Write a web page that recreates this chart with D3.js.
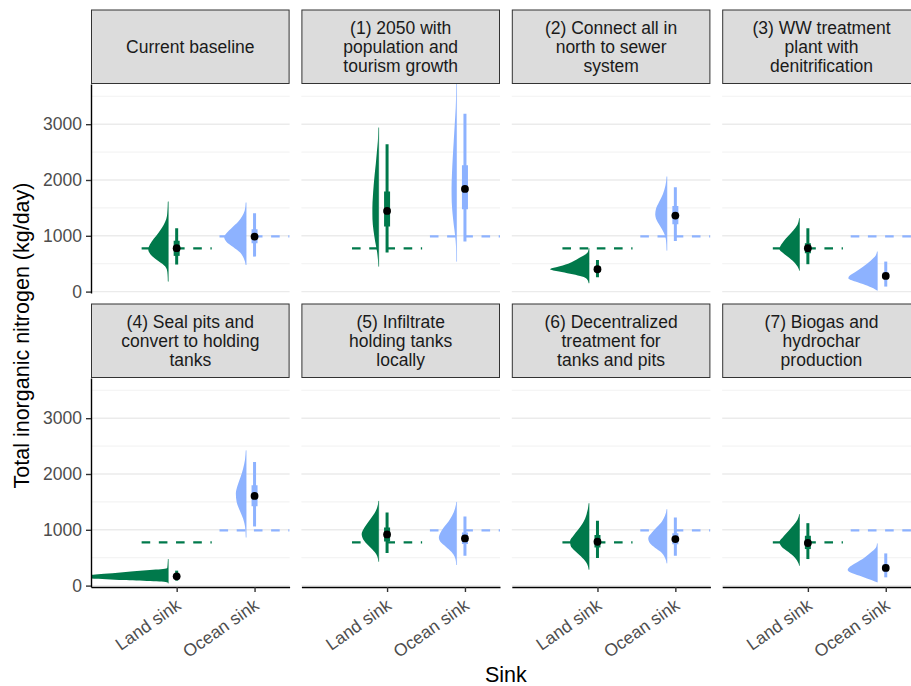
<!DOCTYPE html>
<html>
<head>
<meta charset="utf-8">
<script src="https://cdn.jsdelivr.net/npm/d3@7"></script>
<style>
  body { margin: 0; background: #fff; }
  text { font-family: "Liberation Sans", Arial, sans-serif; }
</style>
</head>
<body>
<svg id="chart" width="911" height="686"></svg>
<script>
// strip labels, one entry per scenario (already wrapped)
const scenarioLabels = [
    ['Current baseline'],
    ['(1) 2050 with', 'population and', 'tourism growth'],
    ['(2) Connect all in', 'north to sewer', 'system'],
    ['(3) WW treatment', 'plant with', 'denitrification'],
    ['(4) Seal pits and', 'convert to holding', 'tanks'],
    ['(5) Infiltrate', 'holding tanks', 'locally'],
    ['(6) Decentralized', 'treatment for', 'tanks and pits'],
    ['(7) Biogas and', 'hydrochar', 'production']
]
const sinks = ['Land sink', 'Ocean sink']
const referenceLevel = [775, 990]   // baseline medians, drawn dashed in every panel
const yTicks = [0, 1000, 2000, 3000]
const yMinorTicks = [500, 1500, 2500, 3500]

// medians and quantile intervals (kg/day)
const landMedian = [778, 1446, 401, 778, 166, 917, 786, 763]
const oceanMedian = [986, 1840, 1362, 281, 1607, 845, 834, 316]
const land66 = [[640, 910], [1165, 1792], [350, 455], [688, 867], [130, 200], [792, 1042], [684, 905], [655, 893]]
const land95 = [[485, 1136], [699, 2641], [258, 568], [491, 1136], [89, 268], [583, 1310], [494, 1161], [476, 1119]]
const ocean66 = [[867, 1118], [1477, 2265], [1208, 1536], [225, 345], [1423, 1798], [745, 952], [740, 940], [255, 380]]
const ocean95 = [[627, 1405], [896, 3185], [909, 1871], [90, 538], [1060, 2214], [536, 1238], [536, 1220], [148, 577]]

// density outlines [value, relative density]
const landSlab = [
    [[1613, .03], [1400, .1], [1300, .2], [1200, .45], [1100, .8], [1000, 1.2], [900, 1.65], [800, 1.95], [750, 2], [700, 1.9], [600, 1.4], [550, 1], [500, .6], [450, .3], [400, .15], [300, .06], [180, .03]],
    [[2939, .015], [2700, .08], [2500, .18], [2300, .28], [2100, .4], [1900, .5], [1700, .58], [1500, .63], [1300, .62], [1100, .52], [900, .35], [700, .15], [448, .015]],
    [[778, .02], [700, .15], [600, 1], [500, 2.1], [440, 3.2], [401, 3.9], [360, 3], [320, 1.9], [280, .9], [240, .3], [150, .02]],
    [[1315, .03], [1200, .2], [1100, .6], [1000, 1.1], [900, 1.6], [800, 1.95], [760, 2], [700, 1.7], [600, 1], [500, .4], [400, .06], [376, .03]],
    [[476, .015], [400, .05], [316, .1], [250, 4], [200, 7.3], [165, 10], [130, 7.8], [100, 4.5], [59, .1], [40, .015]],
    [[1518, .02], [1400, .15], [1300, .4], [1200, .8], [1100, 1.2], [1000, 1.55], [920, 1.7], [850, 1.6], [750, 1.2], [650, .65], [550, .2], [429, .02]],
    [[1476, .02], [1350, .15], [1200, .4], [1100, .7], [1000, 1.1], [900, 1.55], [800, 1.9], [720, 1.85], [620, 1.4], [520, .8], [420, .3], [286, .02]],
    [[1280, .02], [1180, .2], [1080, .6], [980, 1.1], [880, 1.6], [780, 2], [700, 1.8], [600, 1.1], [500, .45], [400, .1], [357, .02]]
]
const oceanSlab = [
    [[1595, .03], [1450, .15], [1350, .4], [1250, .8], [1150, 1.4], [1050, 1.95], [980, 2.2], [900, 2], [800, 1.3], [700, .6], [600, .25], [478, .03]],
    [[3750, .015], [3300, .08], [3000, .18], [2700, .28], [2400, .38], [2100, .46], [1850, .5], [1600, .48], [1400, .4], [1200, .28], [1000, .14], [800, .05], [538, .015]],
    [[2061, .02], [1900, .15], [1750, .4], [1600, .8], [1480, 1.1], [1380, 1.17], [1250, .95], [1150, .6], [1050, .3], [950, .12], [735, .02]],
    [[717, .02], [650, .15], [550, .7], [450, 1.4], [350, 2.2], [280, 2.8], [240, 2.9], [180, 2.2], [120, 1.2], [60, .4], [18, .02]],
    [[2423, .02], [2250, .12], [2100, .3], [1950, .55], [1800, .85], [1650, 1.03], [1500, .95], [1350, .65], [1200, .3], [1050, .1], [863, .02]],
    [[1500, .02], [1380, .15], [1250, .45], [1150, .8], [1050, 1.25], [950, 1.6], [860, 1.77], [780, 1.6], [700, 1.1], [600, .5], [500, .15], [369, .02]],
    [[1369, .02], [1250, .2], [1150, .5], [1050, 1], [950, 1.5], [850, 1.87], [760, 1.7], [680, 1.2], [600, .6], [500, .2], [399, .02]],
    [[756, .02], [680, .15], [600, .6], [500, 1.3], [400, 2.2], [320, 2.85], [280, 2.97], [220, 2.5], [160, 1.5], [100, .6], [59, .02]]
]

const colours = ['#00794b', '#8db2ff']

const svg = d3.select('#chart')
const panelW = 198.6, panelH = 209, stripH = 74.5
const colStep = 210.4, left0 = 91
const panelTop = [84, 378]

const x = d3.scaleLinear().domain([-0.1, 2.45]).range([0, panelW])
const y = d3.scaleLinear().domain([-25, 3720]).range([panelH, 0])
const thick = d3.scaleLinear().domain([0, 1]).range([0, 10])

svg.append('defs').append('clipPath').attr('id', 'panelClip')
  .append('rect').attr('width', panelW).attr('height', panelH)

const panels = scenarioLabels.map((lab, i) => ({
    lab,
    sinks: [
        { median: landMedian[i], q66: land66[i], q95: land95[i], slab: landSlab[i] },
        { median: oceanMedian[i], q66: ocean66[i], q95: ocean95[i], slab: oceanSlab[i] }
    ]
}))

panels.forEach((p, i) => {
    const col = i % 4, row = Math.floor(i / 4)
    const g = svg.append('g').attr('transform', `translate(${left0 + col * colStep},${panelTop[row]})`)

    // strip
    const strip = g.append('g').attr('transform', `translate(0,${-stripH})`)
    strip.append('rect')
        .attr('x', 0.5).attr('y', 0.5)
        .attr('width', panelW - 1).attr('height', stripH - 1)
        .attr('fill', '#dcdcdc').attr('stroke', '#333').attr('stroke-width', 1)
    strip.selectAll('text').data(p.lab).join('text')
        .attr('x', panelW / 2)
        .attr('y', (d, k) => stripH / 2 + (k - (p.lab.length - 1) / 2) * 19)
        .attr('dy', '0.35em')
        .attr('text-anchor', 'middle')
        .attr('font-size', 17.5)
        .attr('fill', '#1a1a1a')
        .text(d => d)

    // grid
    g.append('g').selectAll('line').data(yMinorTicks).join('line')
        .attr('x1', 0).attr('x2', panelW)
        .attr('y1', d => y(d)).attr('y2', d => y(d))
        .attr('stroke', '#ebebeb').attr('stroke-width', 0.7)
    g.append('g').selectAll('line').data(yTicks).join('line')
        .attr('x1', 0).attr('x2', panelW)
        .attr('y1', d => y(d)).attr('y2', d => y(d))
        .attr('stroke', '#ebebeb').attr('stroke-width', 1.4)

    const body = g.append('g').attr('clip-path', 'url(#panelClip)')

    p.sinks.forEach((s, j) => {
        const c = colours[j]
        const pos = j + 1
        const base = x(pos - 0.108)

        // reference line from the current baseline
        body.append('line')
            .attr('x1', x(pos - 0.45)).attr('x2', x(pos + 0.45))
            .attr('y1', y(referenceLevel[j])).attr('y2', y(referenceLevel[j]))
            .attr('stroke', c).attr('stroke-width', 2.2)
            .attr('stroke-dasharray', '8.6 8.6')

        // slab (left half eye)
        const area = d3.area()
            .y(d => y(d[0]))
            .x0(base)
            .x1(d => base - thick(d[1]))
            .curve(d3.curveMonotoneY)
        body.append('path').datum(s.slab)
            .attr('d', area)
            .attr('fill', c)
        const ext = d3.extent(s.slab, d => d[0])
        body.append('line')
            .attr('x1', base).attr('x2', base)
            .attr('y1', y(ext[0])).attr('y2', y(ext[1]))
            .attr('stroke', c).attr('stroke-width', 1).attr('opacity', 0.55)

        // intervals and median
        body.append('line')
            .attr('x1', x(pos)).attr('x2', x(pos))
            .attr('y1', y(s.q95[0])).attr('y2', y(s.q95[1]))
            .attr('stroke', c).attr('stroke-width', 3)
        body.append('line')
            .attr('x1', x(pos)).attr('x2', x(pos))
            .attr('y1', y(s.q66[0])).attr('y2', y(s.q66[1]))
            .attr('stroke', c).attr('stroke-width', 6)
        body.append('circle')
            .attr('cx', x(pos)).attr('cy', y(s.median))
            .attr('r', 3.9).attr('fill', '#000')
    })

    // axes
    if (col === 0) {
        const ya = g.append('g')
            .call(d3.axisLeft(y).tickValues(yTicks).tickFormat(d3.format('d'))
                .tickSize(5).tickSizeOuter(0).tickPadding(4))
        ya.select('.domain').attr('stroke', '#000').attr('stroke-width', 1.4)
        ya.selectAll('.tick line').attr('stroke', '#333').attr('stroke-width', 1.4)
        ya.selectAll('.tick text')
            .attr('font-size', 17.5).attr('fill', '#4d4d4d')
            .attr('font-family', '"Liberation Sans", Arial, sans-serif')
    }
    if (row === 1) {
        const xa = g.append('g').attr('transform', `translate(0,${panelH})`)
            .call(d3.axisBottom(x).tickValues([1, 2]).tickFormat(v => sinks[v - 1]).tickSize(5).tickSizeOuter(0))
        xa.select('.domain').attr('stroke', '#000').attr('stroke-width', 1.6)
        xa.selectAll('.tick line').attr('stroke', '#333').attr('stroke-width', 1.4)
        xa.selectAll('.tick text')
            .attr('x', 0).attr('y', 0).attr('dy', 0)
            .attr('transform', 'translate(5,21) rotate(-35)')
            .attr('text-anchor', 'end')
            .attr('font-size', 17.5).attr('fill', '#4d4d4d')
            .attr('font-family', '"Liberation Sans", Arial, sans-serif')
    }
})

// axis titles
svg.append('text')
    .attr('x', left0 + (3 * colStep + panelW) / 2).attr('y', 682)
    .attr('text-anchor', 'middle')
    .attr('font-size', 21.5).attr('fill', '#000')
    .text('Sink')
svg.append('text')
    .attr('transform', `translate(29,${(panelTop[0] + panelTop[1] + panelH) / 2}) rotate(-90)`)
    .attr('text-anchor', 'middle')
    .attr('font-size', 21.5).attr('fill', '#000')
    .text('Total inorganic nitrogen (kg/day)')
</script>
</body>
</html>
